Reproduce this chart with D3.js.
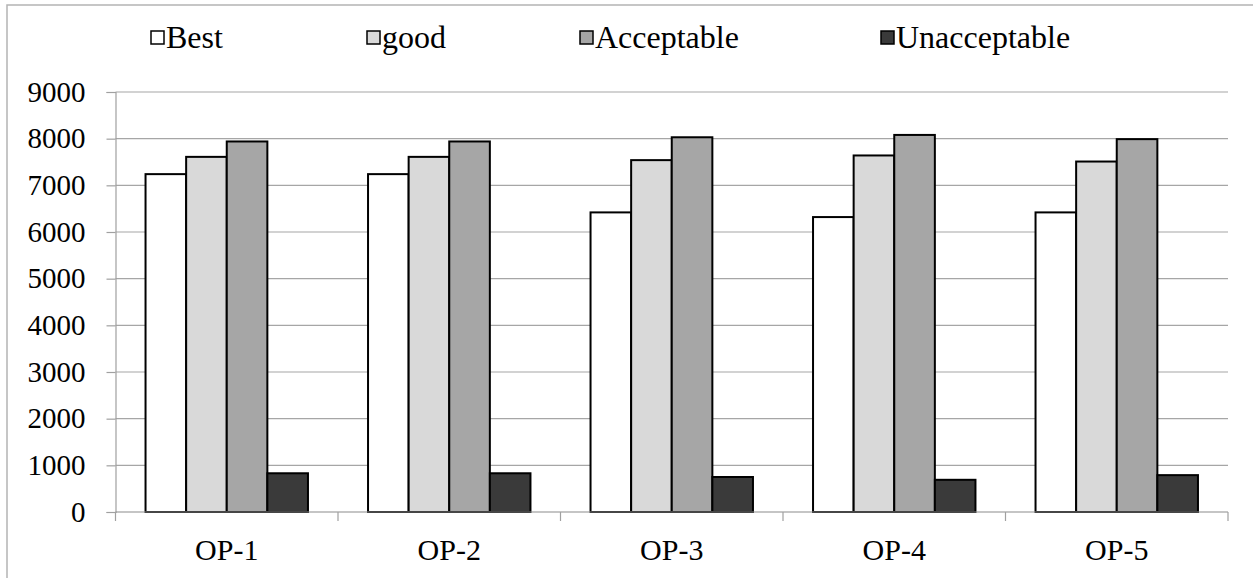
<!DOCTYPE html>
<html>
<head>
<meta charset="utf-8">
<script src="https://cdn.jsdelivr.net/npm/d3@7"></script>
<style>
  html, body { margin: 0; padding: 0; background: #fff; }
  svg { display: block; }
</style>
</head>
<body>
<svg id="chart" width="1253" height="578"></svg>
<script>
// Operating points on the x axis
const categories = ["OP-1", "OP-2", "OP-3", "OP-4", "OP-5"];

// Series names and values per operating point
const seriesNames = ["Best", "good", "Acceptable", "Unacceptable"];
const bestValues = [7240, 7240, 6420, 6320, 6420];
const goodValues = [7610, 7610, 7540, 7640, 7510];
const acceptableValues = [7940, 7940, 8030, 8080, 7990];
const unacceptableValues = [830, 830, 750, 690, 790];

const yTicks = [0, 1000, 2000, 3000, 4000, 5000, 6000, 7000, 8000, 9000];

const seriesValues = [bestValues, goodValues, acceptableValues, unacceptableValues];
const seriesColors = ["#ffffff", "#d9d9d9", "#a6a6a6", "#3a3a3a"];

const FONT = "'Liberation Serif', 'DejaVu Serif', 'Times New Roman', Times, serif";

const svg = d3.select("#chart");
const W = 1253, H = 578;

// Outer chart frame
svg.append("rect")
  .attr("x", 7).attr("y", 5)
  .attr("width", W + 10).attr("height", H + 10)
  .attr("fill", "none").attr("stroke", "#b4b4b4").attr("stroke-width", 1.5);

const plot = { left: 115.5, right: 1228, top: 92, bottom: 512 };

const x0 = d3.scaleBand()
  .domain(categories)
  .range([plot.left, plot.right])
  .paddingInner(0.27)
  .paddingOuter(0.135);

const x1 = d3.scaleBand()
  .domain(seriesNames)
  .range([0, x0.bandwidth()]);

const y = d3.scaleLinear()
  .domain([0, 9000])
  .range([plot.bottom, plot.top]);

// Horizontal gridlines
svg.append("g")
  .selectAll("line")
  .data(yTicks.filter(d => d > 0))
  .join("line")
  .attr("x1", plot.left).attr("x2", plot.right)
  .attr("y1", d => y(d)).attr("y2", d => y(d))
  .attr("stroke", "#a6a6a6").attr("stroke-width", 1.2);

// Y axis
const yAxis = svg.append("g")
  .attr("transform", `translate(${plot.left},0)`)
  .call(d3.axisLeft(y).tickValues(yTicks).tickSize(9).tickPadding(21).tickFormat(d3.format("d")));
yAxis.attr("font-family", null).attr("font-size", null);
yAxis.select(".domain").attr("stroke", "#a0a0a0").attr("stroke-width", 1.2);
yAxis.selectAll(".tick line").attr("stroke", "#a0a0a0").attr("stroke-width", 1.2);
yAxis.selectAll(".tick text")
  .style("font-family", FONT)
  .style("font-size", "29px").attr("fill", "#000");

// Bars
const groups = svg.append("g")
  .selectAll("g")
  .data(categories)
  .join("g")
  .attr("transform", d => `translate(${x0(d)},0)`);

groups.selectAll("rect")
  .data((c, i) => seriesNames.map((s, k) => ({ s, v: seriesValues[k][i], color: seriesColors[k] })))
  .join("rect")
  .attr("x", d => x1(d.s))
  .attr("y", d => y(d.v))
  .attr("width", x1.bandwidth())
  .attr("height", d => y(0) - y(d.v))
  .attr("fill", d => d.color)
  .attr("stroke", "#000")
  .attr("stroke-width", 2);

// X axis with ticks between categories
const step = x0.step();
const boundaries = d3.range(categories.length + 1).map(i => plot.left + i * step);
const xAxisG = svg.append("g");
xAxisG.append("line")
  .attr("x1", plot.left).attr("x2", plot.right)
  .attr("y1", plot.bottom).attr("y2", plot.bottom)
  .attr("stroke", "#8c8c8c").attr("stroke-width", 1.2);
xAxisG.selectAll("line.tk")
  .data(boundaries)
  .join("line")
  .attr("class", "tk")
  .attr("x1", d => d).attr("x2", d => d)
  .attr("y1", plot.bottom).attr("y2", plot.bottom + 9)
  .attr("stroke", "#a0a0a0").attr("stroke-width", 1.2);
xAxisG.selectAll("text")
  .data(categories)
  .join("text")
  .attr("x", d => x0(d) + x0.bandwidth() / 2)
  .attr("y", 560)
  .attr("text-anchor", "middle")
  .style("font-family", FONT)
  .style("font-size", "30px")
  .text(d => d);

// Legend
const legendX = [151, 367, 580, 881];
const legend = svg.append("g")
  .selectAll("g")
  .data(seriesNames)
  .join("g")
  .attr("transform", (d, i) => `translate(${legendX[i]},31)`);
legend.append("rect")
  .attr("width", 13).attr("height", 13)
  .attr("fill", (d, i) => seriesColors[i])
  .attr("stroke", "#000").attr("stroke-width", 1.5);
legend.append("text")
  .attr("x", 15).attr("y", 17)
  .style("font-family", FONT)
  .style("font-size", "32px")
  .text(d => d);
</script>
</body>
</html>
